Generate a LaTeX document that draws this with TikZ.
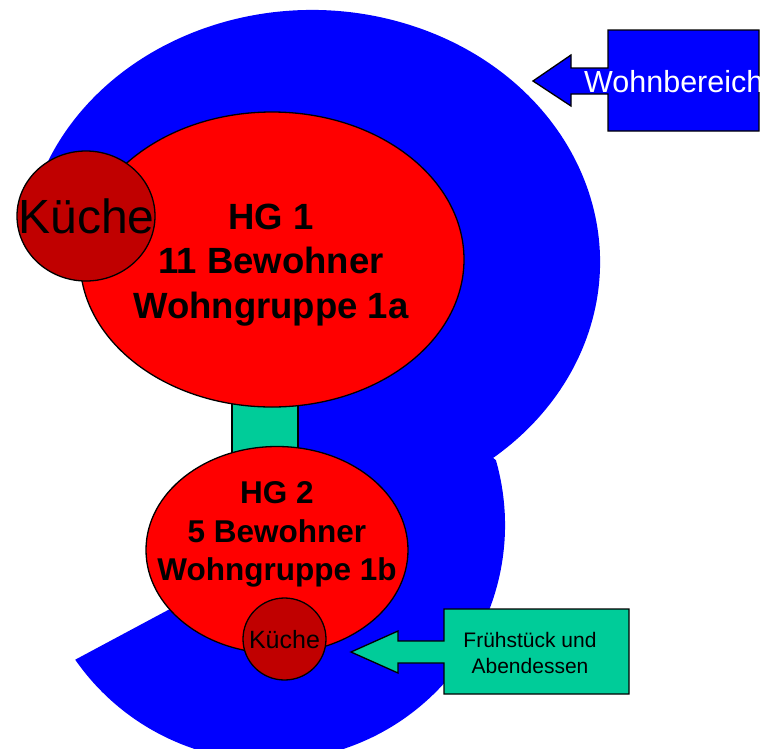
\documentclass[tikz,border=0pt]{standalone}
\usepackage{fontspec}
\setmainfont{Liberation Sans}
\usetikzlibrary{shapes.geometric,calc}
\definecolor{wbblue}{RGB}{0,0,255}
\definecolor{hgred}{RGB}{255,0,0}
\definecolor{kred}{RGB}{192,0,0}
\definecolor{tealc}{RGB}{0,204,153}
\begin{document}
\begin{tikzpicture}[x=1pt,y=1pt,yscale=-1,
  outl/.style={draw=black,line width=1.3pt},
  hgell/.style={outl,ellipse,fill=hgred,inner sep=0pt},
  kell/.style={outl,ellipse,fill=kred,inner sep=0pt},
  conn/.style={outl,rectangle,fill=tealc,inner sep=0pt},
  hgone/.style={anchor=base,inner sep=0pt,font=\fontsize{36.5}{36.5}\selectfont\bfseries},
  hgtwo/.style={anchor=base,inner sep=0pt,font=\fontsize{31.5}{31.5}\selectfont\bfseries},
  plain/.style={anchor=base,inner sep=0pt}]
\useasboundingbox (0,0) rectangle (761,748);
% Wohnbereich (blue area)
\fill[wbblue] (312,262) -- ++(200:288 and 252)
  arc[start angle=200,end angle=411,x radius=288,y radius=252]
  -- ($(269,525)+(-15.9:236)$)
  arc[start angle=-15.9,end angle=145.2,radius=236]
  -- (269,556) -- cycle;
% callout Wohnbereich
\draw[outl,fill=wbblue] (608,30) -- (759,30) -- (759,131) -- (608,131) -- (608,94)
  -- (571,94) -- (571,106) -- (533,81) -- (571,55) -- (571,68) -- (608,68) -- cycle;
\node[plain,anchor=base west,text=white,font=\fontsize{30.5}{30.5}\selectfont] (wb) at (584,92) {Wohnbereich};
% connector between the groups
\node[conn,minimum width=66pt,minimum height=70pt] (gang) at (265,427) {};
% HG 1
\node[hgell,minimum width=384pt,minimum height=295pt] (hg1) at (272,259.5) {};
\node[kell,minimum width=138pt,minimum height=130pt] (k1) at (86,216) {};
\node[plain,font=\fontsize{48}{48}\selectfont] (k1t) at (86.5,233) {Küche};
\node[hgone] (hg1a) at (271,229) {HG 1};
\node[hgone] (hg1b) at (271,273.5) {11 Bewohner};
\node[hgone] (hg1c) at (271,318) {Wohngruppe 1a};
% HG 2
\node[hgell,minimum width=262pt,minimum height=207pt] (hg2) at (277,550) {};
\node[hgtwo] (hg2a) at (277,503) {HG 2};
\node[hgtwo] (hg2b) at (277,542) {5 Bewohner};
\node[hgtwo] (hg2c) at (277,580) {Wohngruppe 1b};
\node[kell,minimum width=83pt,minimum height=82pt] (k2) at (284.5,639) {};
\node[plain,font=\fontsize{25}{25}\selectfont] (k2t) at (284.5,648) {Küche};
% callout Frühstück
\draw[outl,fill=tealc] (444,609) -- (629,609) -- (629,694) -- (444,694) -- (444,663)
  -- (398,663) -- (398,673) -- (351,652) -- (398,631) -- (398,641) -- (444,641) -- cycle;
\node[plain,font=\fontsize{21}{21}\selectfont] (fa) at (530,647) {Frühstück und};
\node[plain,font=\fontsize{21}{21}\selectfont] (fb) at (530,673) {Abendessen};
\end{tikzpicture}
\end{document}
